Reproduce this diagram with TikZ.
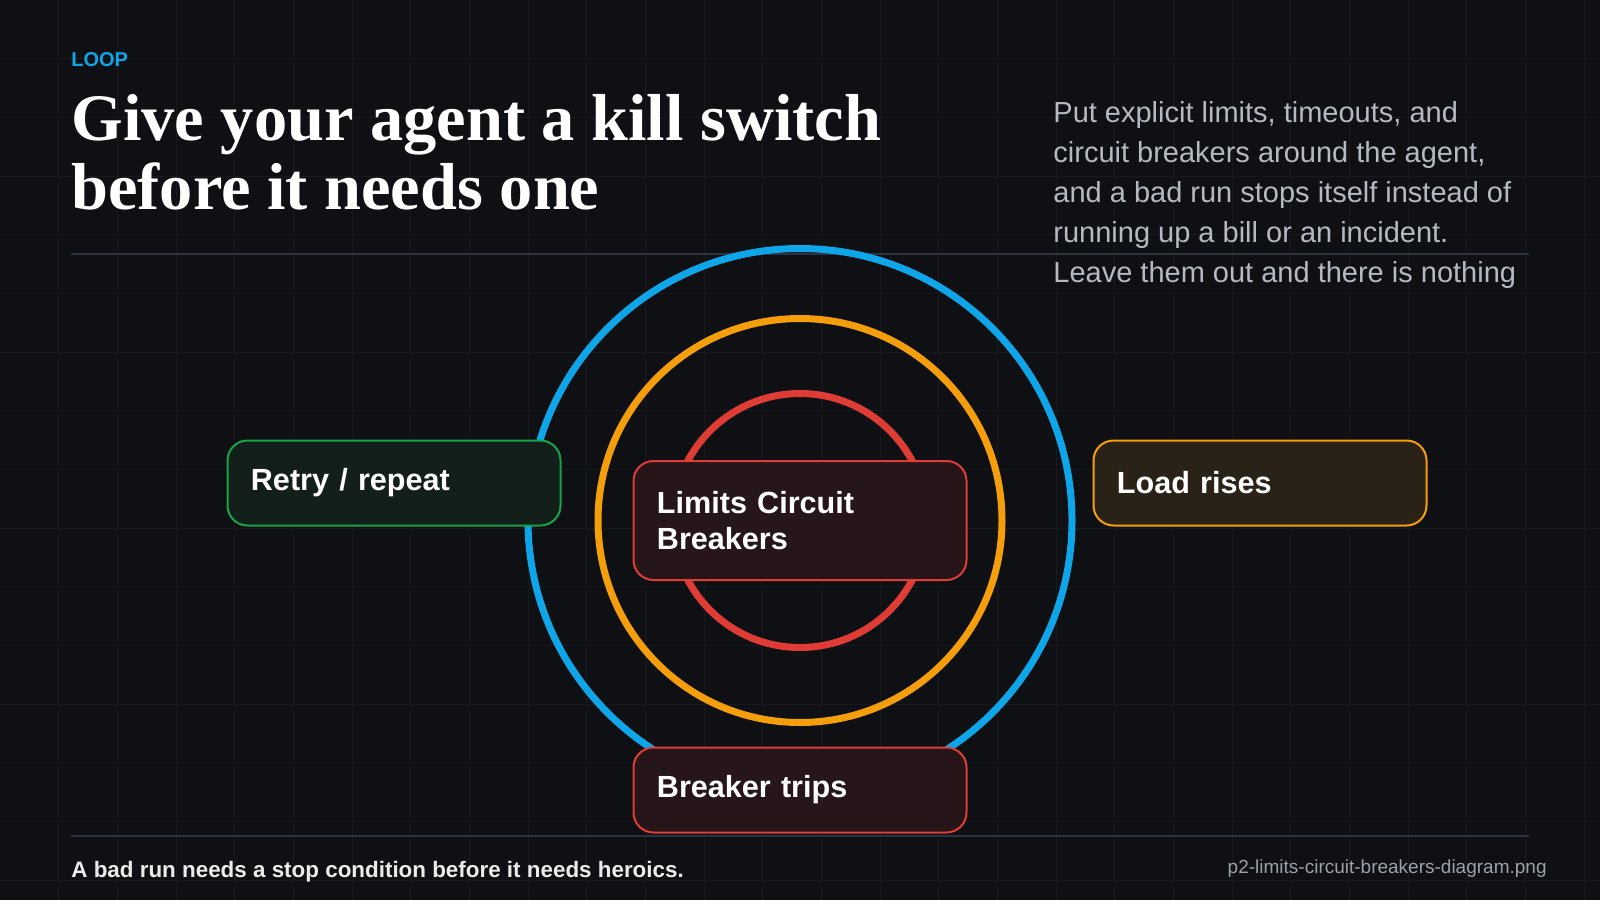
\documentclass[tikz,border=0pt]{standalone}
\usepackage{fontspec}
\setmainfont{Liberation Sans}
\newfontfamily\titlefont{Liberation Serif}
\usepackage{tikz}
\usetikzlibrary{positioning}
\usepackage{xcolor}

\definecolor{bgdark}{HTML}{0F1013}
\definecolor{gridc}{HTML}{17191F}
\definecolor{rulec}{HTML}{2B3342}
\definecolor{skyc}{HTML}{0EA5E9}
\definecolor{ambc}{HTML}{F59E0B}
\definecolor{redc}{HTML}{E03C36}
\definecolor{greenc}{HTML}{16A34A}
\definecolor{parac}{HTML}{B4B9C2}
\definecolor{filec}{HTML}{9BA1AB}

\begin{document}
\begin{tikzpicture}[x=0.5pt, y=-0.5pt,
	box/.style={draw, line width=1pt, rounded corners=10pt, minimum width=166.5pt,
		minimum height=42.5pt, inner xsep=11.7pt, text width=143.1pt, align=left,
		text=white, font=\fontsize{15.3pt}{17.9pt}\selectfont\bfseries},
	ring/.style={line width=3.5pt}
]
	\useasboundingbox (0,0) rectangle (1600,900);
	\fill[bgdark] (0,0) rectangle (1600,900);
	% grid
	\foreach \i in {1,...,27}
		\draw[gridc, line width=0.5pt] ({\i*176/3},0) -- ({\i*176/3},900);
	\foreach \j in {1,...,15}
		\draw[gridc, line width=0.5pt] (0,{\j*176/3}) -- (1600,{\j*176/3});

	% header
	\node[anchor=base west, inner sep=0, text=skyc, font=\fontsize{10pt}{12pt}\selectfont\bfseries]
		(tag) at (71,66) {LOOP};
	\node[anchor=base west, inner sep=0, align=left, text=white,
		font=\fontsize{33.2pt}{34.5pt}\selectfont\titlefont\bfseries]
		(title) at (71,209) {Give your agent a kill switch\\before it needs one};
	\node[anchor=base west, inner sep=0, align=left, text=parac,
		font=\fontsize{14.5pt}{20pt}\selectfont]
		(intro) at (1053,282.5) {Put explicit limits, timeouts, and\\circuit breakers around the agent,\\and a bad run stops itself instead of\\running up a bill or an incident.\\Leave them out and there is nothing};
	\coordinate (ruleL) at (71,254);
	\coordinate (ruleR) at (1529,254);
	\draw[rulec, line width=1pt] (ruleL) -- (ruleR);

	% rings
	\coordinate (hub) at (800,520.5);
	\draw[ring, skyc] (hub) circle (272);
	\draw[ring, ambc] (hub) circle (202);
	\draw[ring, redc] (hub) circle (127);

	% stages
	\node[box, draw=greenc, fill={rgb,255:red,19;green,32;blue,25}] (retry) at (394,483) {Retry / repeat};
	\node[box, draw=ambc, fill={rgb,255:red,42;green,34;blue,22}] (load) at (1260,483) {Load rises};
	\node[box, draw=redc, fill={rgb,255:red,38;green,22;blue,25}, minimum height=59.5pt]
		(limits) at (hub) {Limits Circuit\\Breakers};
	\node[box, draw=redc, fill={rgb,255:red,38;green,22;blue,25}] (trips) at (800,790) {Breaker trips};

	% footer
	\coordinate (footL) at (71,836);
	\coordinate (footR) at (1529,836);
	\draw[rulec, line width=1pt] (footL) -- (footR);
	\node[anchor=base west, inner sep=0, text=white!92!black, font=\fontsize{11.2pt}{13pt}\selectfont\bfseries]
		(moral) at (71,877) {A bad run needs a stop condition before it needs heroics.};
	\node[anchor=base east, inner sep=0, text=filec, font=\fontsize{9.5pt}{11pt}\selectfont]
		(fname) at (1547,873) {p2-limits-circuit-breakers-diagram.png};
\end{tikzpicture}
\end{document}
